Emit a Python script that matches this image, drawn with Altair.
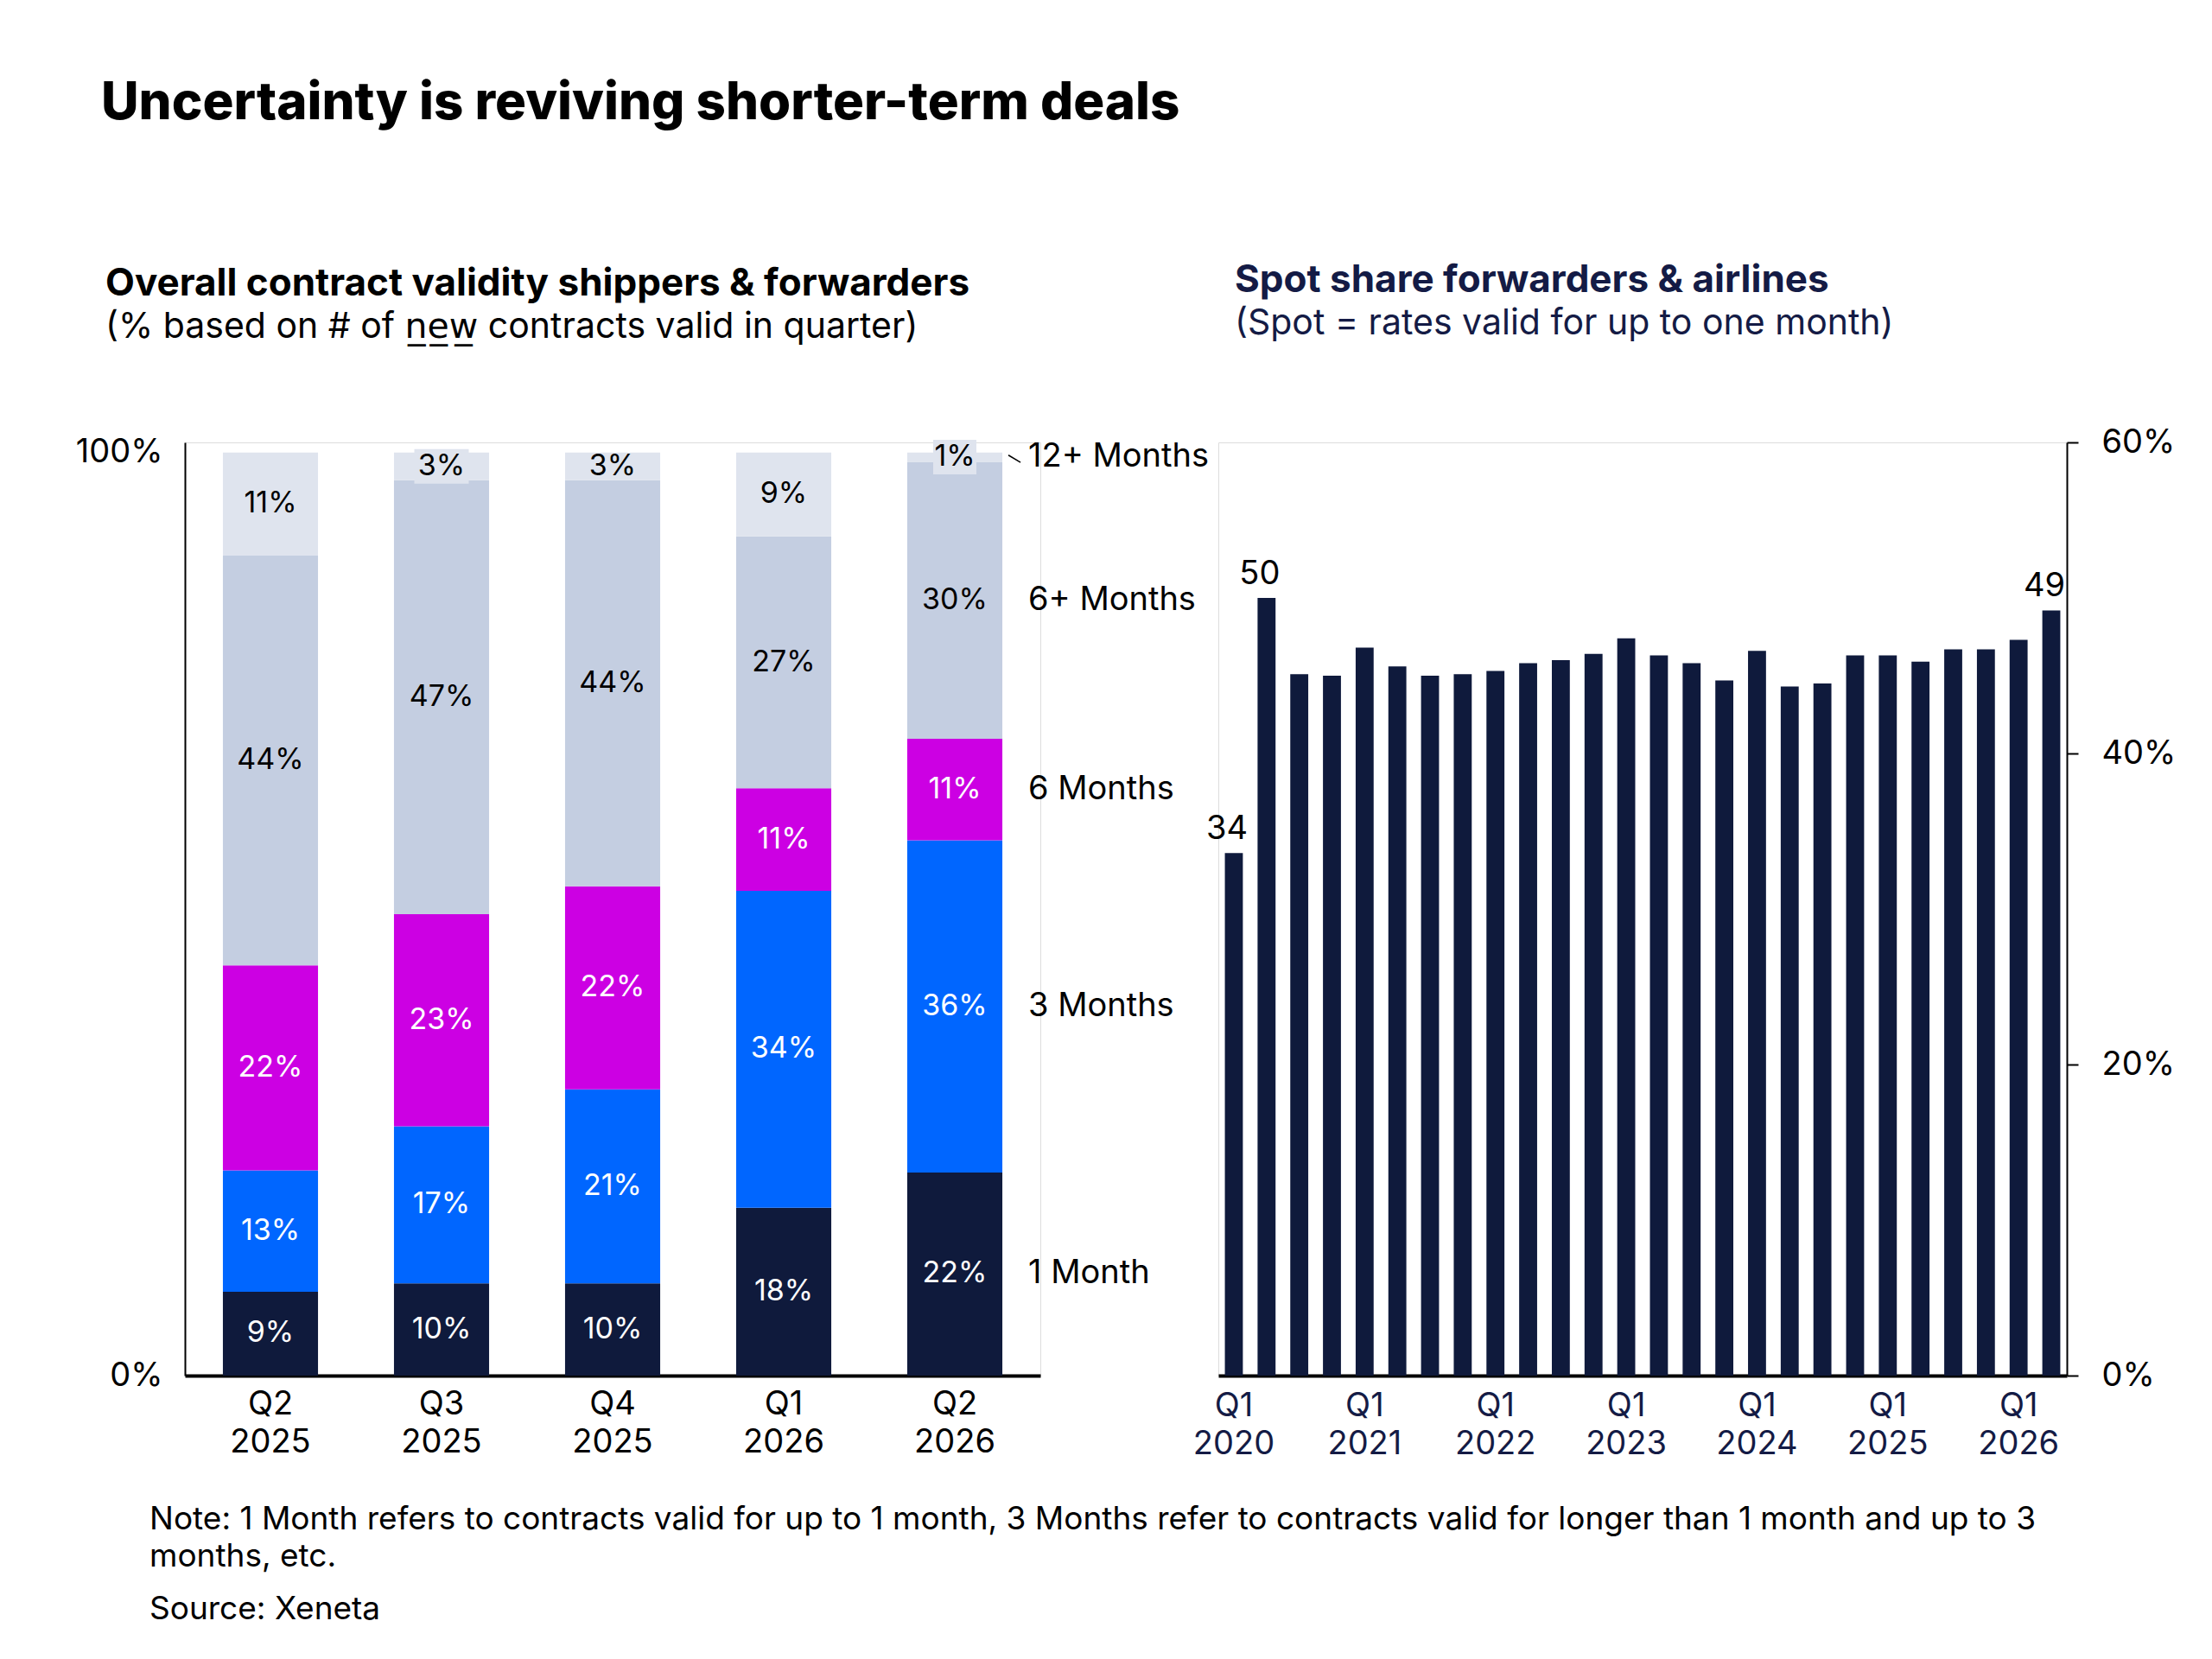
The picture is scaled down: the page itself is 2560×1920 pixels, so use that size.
import altair as alt
import pandas as pd

FONT = "Inter"
NAVY = "#0f1a3c"
BLUE = "#0066ff"
MAGENTA = "#cc00e3"
GREY6 = "#c4cee1"
GREY12 = "#dfe4ee"
LABEL_NAVY = "#141b45"

# ---------------- Left chart data ----------------
quarters_left = ["Q2 2025", "Q3 2025", "Q4 2025", "Q1 2026", "Q2 2026"]
segments = ["1 Month", "3 Months", "6 Months", "6+ Months", "12+ Months"]
one_month = [9, 10, 10, 18, 22]
three_months = [13, 17, 21, 34, 36]
six_months = [22, 23, 22, 11, 11]
six_plus_months = [44, 47, 44, 27, 30]
twelve_plus_months = [11, 3, 3, 9, 1]
boxed_labels = ["Q3 2025", "Q2 2026"]  # small top labels drawn on a light box

# ---------------- Right chart data ----------------
quarters_right = [
    "Q1 2020", "Q2 2020", "Q3 2020", "Q4 2020",
    "Q1 2021", "Q2 2021", "Q3 2021", "Q4 2021",
    "Q1 2022", "Q2 2022", "Q3 2022", "Q4 2022",
    "Q1 2023", "Q2 2023", "Q3 2023", "Q4 2023",
    "Q1 2024", "Q2 2024", "Q3 2024", "Q4 2024",
    "Q1 2025", "Q2 2025", "Q3 2025", "Q4 2025",
    "Q1 2026", "Q2 2026",
]
spot_share = [33.6, 50.0, 45.1, 45.0, 46.8, 45.6, 45.0, 45.1, 45.3, 45.8, 46.0, 46.4, 47.4,
              46.3, 45.8, 44.7, 46.6, 44.3, 44.5, 46.3, 46.3, 45.9, 46.7, 46.7, 47.3, 49.2]
right_tick_quarters = ["Q1 2020", "Q1 2021", "Q1 2022", "Q1 2023", "Q1 2024", "Q1 2025", "Q1 2026"]
labeled_quarters = ["Q1 2020", "Q2 2020", "Q2 2026"]

series = [one_month, three_months, six_months, six_plus_months, twelve_plus_months]
rows = []
for i, q in enumerate(quarters_left):
    for j, seg in enumerate(segments):
        rows.append({"quarter": q, "segment": seg, "order": j, "value": series[j][i]})
left_df = pd.DataFrame(rows)
right_df = pd.DataFrame({"quarter": quarters_right, "value": spot_share})

LW, LH = 990, 1080
RW, RH = 982, 1080

base = (
    alt.Chart(left_df)
    .transform_joinaggregate(total="sum(value)", groupby=["quarter"])
    .transform_calculate(frac="datum.value / datum.total")
    .transform_stack(stack="frac", as_=["y0", "y1"], groupby=["quarter"],
                     sort=[alt.SortField("order", order="ascending")])
    .transform_calculate(mid="(datum.y0 + datum.y1) / 2", lab="datum.value + '%'")
)

lx = alt.X(
    "quarter:N", sort=quarters_left,
    scale=alt.Scale(paddingInner=0.444, paddingOuter=0.222),
    axis=alt.Axis(title=None, labelAngle=0, labelExpr="split(datum.label, ' ')",
                  labelFontSize=38, labelColor="#000000", labelFont=FONT, ticks=False,
                  domainColor="#000000", domainWidth=4, labelPadding=14, labelLineHeight=44),
)
ly_scale = alt.Scale(domain=[0, 1.011], nice=False, zero=True)

bars_left = base.mark_bar().encode(
    x=lx,
    y=alt.Y("y0:Q", scale=ly_scale,
            axis=alt.Axis(title=None, values=[0, 1], format=".0%", ticks=False, grid=False,
                          domainColor="#000000", domainWidth=2, labelPadding=26,
                          labelFontSize=38, labelColor="#000000", labelFont=FONT)),
    y2="y1:Q",
    color=alt.Color("segment:N", scale=alt.Scale(domain=segments,
                    range=[NAVY, BLUE, MAGENTA, GREY6, GREY12]), legend=None),
)

PATH_WIDE = "M-1,-0.635L1,-0.635L1,0.635L-1,0.635Z"
PATH_NARROW = "M-1,-0.8L1,-0.8L1,0.8L-1,0.8Z"
boxes = (
    base.transform_filter(alt.FieldOneOfPredicate(field="quarter", oneOf=boxed_labels))
    .transform_filter("datum.segment == '12+ Months'")
    .mark_point(filled=True, opacity=1, strokeWidth=0, color=GREY12)
    .encode(
        x=alt.X("quarter:N", sort=quarters_left),
        y=alt.Y("mid:Q", scale=ly_scale),
        shape=alt.condition("datum.quarter == 'Q2 2026'", alt.value(PATH_NARROW), alt.value(PATH_WIDE)),
        size=alt.condition("datum.quarter == 'Q2 2026'", alt.value(2500), alt.value(3969)),
    )
)

seg_text = base.mark_text(fontSize=34, font=FONT, baseline="middle").encode(
    x=alt.X("quarter:N", sort=quarters_left),
    y=alt.Y("mid:Q", scale=ly_scale),
    text="lab:N",
    color=alt.condition("datum.order < 3", alt.value("#ffffff"), alt.value("#000000")),
)

legend_text = (
    base.transform_filter("datum.quarter == 'Q2 2026'")
    .mark_text(fontSize=38, font=FONT, align="left", baseline="middle", dx=85, color="#000000")
    .encode(x=alt.X("quarter:N", sort=quarters_left), y=alt.Y("mid:Q", scale=ly_scale), text="segment:N")
)

leader = (
    base.transform_filter("datum.quarter == 'Q2 2026' && datum.segment == '12+ Months'")
    .mark_rule(color="#000000", strokeWidth=1.5, xOffset=7, x2Offset=21, yOffset=3, y2Offset=6)
    .encode(
        x=alt.X("quarter:N", sort=quarters_left, bandPosition=1),
        x2=alt.X2("quarter", bandPosition=1),
        y=alt.Y("y1:Q", scale=ly_scale),
        y2="mid:Q",
    )
)

left = alt.layer(bars_left, boxes, seg_text, legend_text, leader).properties(
    width=LW, height=LH,
    title=alt.TitleParams(
        text="Overall contract validity shippers & forwarders",
        subtitle="(% based on # of n\u0332e\u0332w\u0332 contracts valid in quarter)",
        anchor="start", frame="group", dx=-92, offset=106,
        fontSize=44, fontWeight="bold", font=FONT, color="#000000",
        subtitleFontSize=41, subtitleFont="Inter, DejaVu Sans, sans-serif",
        subtitleColor="#000000", subtitlePadding=8,
    ),
)

# ---------------- Right chart ----------------
rx = alt.X(
    "quarter:N", sort=quarters_right,
    scale=alt.Scale(paddingInner=0.45, paddingOuter=0.2),
    axis=alt.Axis(title=None, values=right_tick_quarters, labelAngle=0,
                  labelExpr="split(datum.label, ' ')", labelFontSize=38, labelFont=FONT,
                  labelColor=LABEL_NAVY, ticks=False, domainColor="#000000", domainWidth=4,
                  labelPadding=16, labelLineHeight=44),
)
ry = alt.Y(
    "value:Q", scale=alt.Scale(domain=[0, 60], nice=False),
    axis=alt.Axis(title=None, orient="right", values=[0, 20, 40, 60], labelExpr="datum.value + '%'",
                  tickSize=13, tickColor="#000000", tickWidth=2, domainColor="#000000", domainWidth=2,
                  labelPadding=27, grid=False, labelFontSize=38, labelFont=FONT, labelColor="#000000"),
)
bars_right = alt.Chart(right_df).mark_bar(color=NAVY).encode(x=rx, y=ry)
right_labels = (
    alt.Chart(right_df)
    .transform_filter(alt.FieldOneOfPredicate(field="quarter", oneOf=labeled_quarters))
    .mark_text(baseline="bottom", dy=-8, dx=-8, fontSize=38, font=FONT, color="#000000")
    .encode(x=alt.X("quarter:N", sort=quarters_right), y=alt.Y("value:Q"),
            text=alt.Text("value:Q", format=".0f"))
)
right = alt.layer(bars_right, right_labels).properties(
    width=RW, height=RH,
    title=alt.TitleParams(
        text="Spot share forwarders & airlines",
        subtitle="(Spot = rates valid for up to one month)",
        anchor="start", frame="group", dx=19, offset=98,
        fontSize=44, fontWeight="bold", font=FONT, color=LABEL_NAVY,
        subtitleFontSize=41, subtitleFont=FONT, subtitleColor=LABEL_NAVY, subtitlePadding=8,
    ),
)

inner = alt.hconcat(left, right, spacing=206, bounds="flush").properties(
    title=alt.TitleParams(
        text=["Note: 1 Month refers to contracts valid for up to 1 month, 3 Months refer to contracts valid for longer than 1 month and up to 3",
              "months, etc."],
        subtitle="Source: Xeneta",
        orient="bottom", anchor="start", frame="group", dx=-41, offset=50,
        fontSize=37, fontWeight="normal", font=FONT, color="#000000", lineHeight=43,
        subtitleFontSize=37, subtitleFont=FONT, subtitleColor="#000000", subtitlePadding=24,
    )
)

chart = (
    alt.vconcat(inner, spacing=0)
    .properties(
        title=alt.TitleParams(
            text="Uncertainty is reviving shorter-term deals",
            anchor="start", frame="group", dx=-97, offset=152,
            fontSize=60, fontWeight=800, font=FONT, color="#000000",
        ),
        padding={"left": 78, "top": 81, "right": 5, "bottom": 5},
        background="#ffffff",
    )
    .configure_view(stroke=None)
    .configure(font=FONT)
)

chart.save("out.html", embed_options={"renderer": "svg", "actions": False})
